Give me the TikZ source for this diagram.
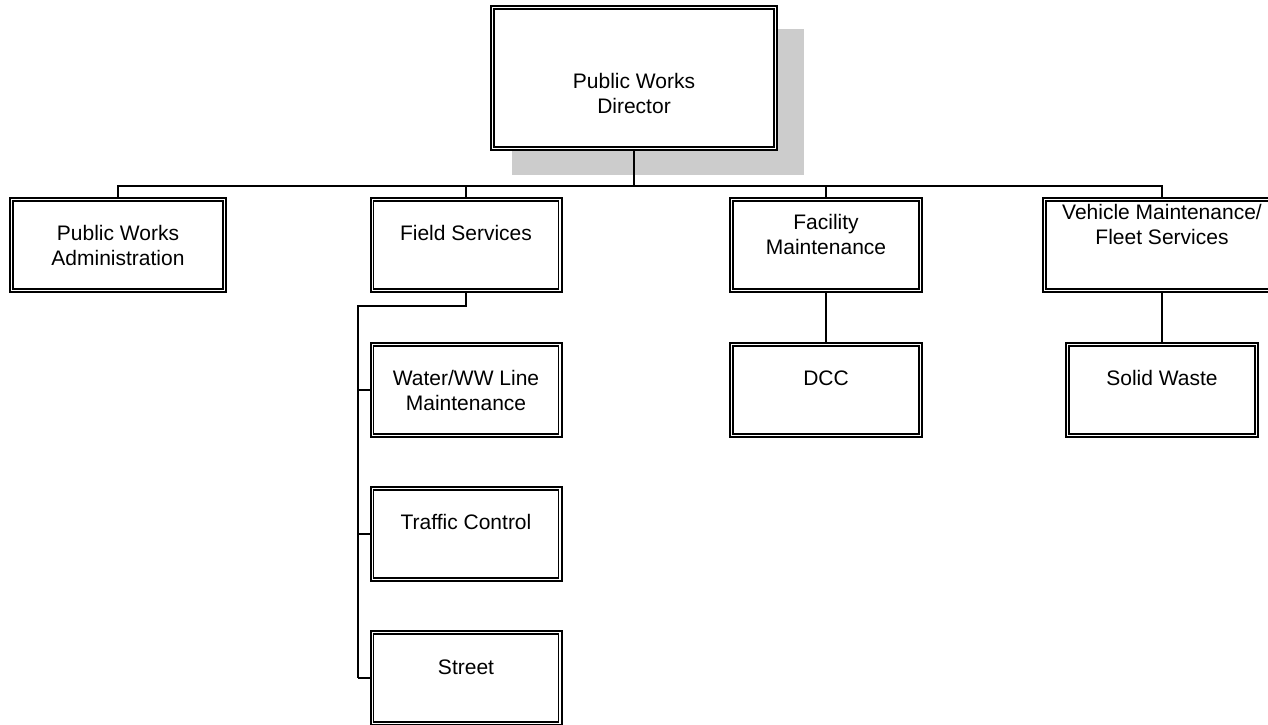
\documentclass[tikz,border=0pt]{standalone}
\usepackage{fontspec}
\setmainfont{Liberation Sans}
\usetikzlibrary{calc}
\definecolor{shadowgray}{HTML}{CCCCCC}
\tikzset{
  orgbox/.style={draw=black, line width=2pt, fill=white, inner sep=0pt,
    minimum width=#1, minimum height=94pt},
  innerbox/.style={draw=black, line width=1.1pt},
  txt/.style={align=center, inner sep=0pt, font=\fontsize{21pt}{25pt}\selectfont},
  conn/.style={draw=black, line width=2pt},
}
\begin{document}
\begin{tikzpicture}[x=1pt, y=-1pt]
\useasboundingbox (0,0) rectangle (1268,724);
\clip (0,0) rectangle (1268,724);
% shadow of director box
\fill[shadowgray] (512,29) rectangle (804,175);
% boxes
\node[orgbox=286pt, minimum height=144pt] (dir) at (634,78) {};
\node[orgbox=216pt] (pwa) at (118,245) {};
\node[orgbox=191pt] (fs)  at (466,245) {};
\node[orgbox=192pt] (fm)  at (826,245) {};
\node[orgbox=238pt] (vm)  at (1162,245) {};
\node[orgbox=191pt] (ww)  at (466,390) {};
\node[orgbox=191pt] (tc)  at (466,534) {};
\node[orgbox=191pt] (st)  at (466,678) {};
\node[orgbox=192pt] (dcc) at (826,390) {};
\node[orgbox=192pt] (sw)  at (1162,390) {};
\foreach \n in {dir,pwa,fs,fm,vm,ww,tc,st,dcc,sw}
  \draw[innerbox] ([shift={(4,4)}]\n.north west) rectangle ([shift={(-4,-4)}]\n.south east);
% texts
\node[txt] (tdir) at ([yshift=-15pt]dir.center) {Public Works\\Director};
\node[txt] (tpwa) at (pwa.center) {Public Works\\Administration};
\node[txt] (tfs)  at ([yshift=12pt]fs.center) {Field Services};
\node[txt] (tfm)  at ([yshift=11pt]fm.center) {Facility\\Maintenance};
\node[txt] (tvm)  at ([yshift=21pt]vm.center) {Vehicle Maintenance/\\Fleet Services};
\node[txt] (tww)  at (ww.center) {Water/WW Line\\Maintenance};
\node[txt] (ttc)  at ([yshift=12pt]tc.center) {Traffic Control};
\node[txt] (tst)  at ([yshift=11pt]st.center) {Street};
\node[txt] (tdcc) at ([yshift=12pt]dcc.center) {DCC};
\node[txt] (tsw)  at ([yshift=12pt]sw.center) {Solid Waste};
% connectors
\coordinate (bus) at (634,186);
\coordinate (ftop) at (358,306);
\coordinate (fbot) at (358,678);
\draw[conn] (dir.south) -- (bus);
\draw[conn] (bus) -| (pwa.north);
\draw[conn] (bus) -| (fs.north);
\draw[conn] (bus) -| (fm.north);
\draw[conn] (bus) -| (vm.north);
\draw[conn] (fs.south) |- (ftop) -- (fbot);
\draw[conn] (ftop |- ww.west) -- (ww.west);
\draw[conn] (ftop |- tc.west) -- (tc.west);
\draw[conn] (fbot) -- (st.west);
\draw[conn] (fm.south) -- (dcc.north);
\draw[conn] (vm.south) -- (sw.north);
\end{tikzpicture}
\end{document}
